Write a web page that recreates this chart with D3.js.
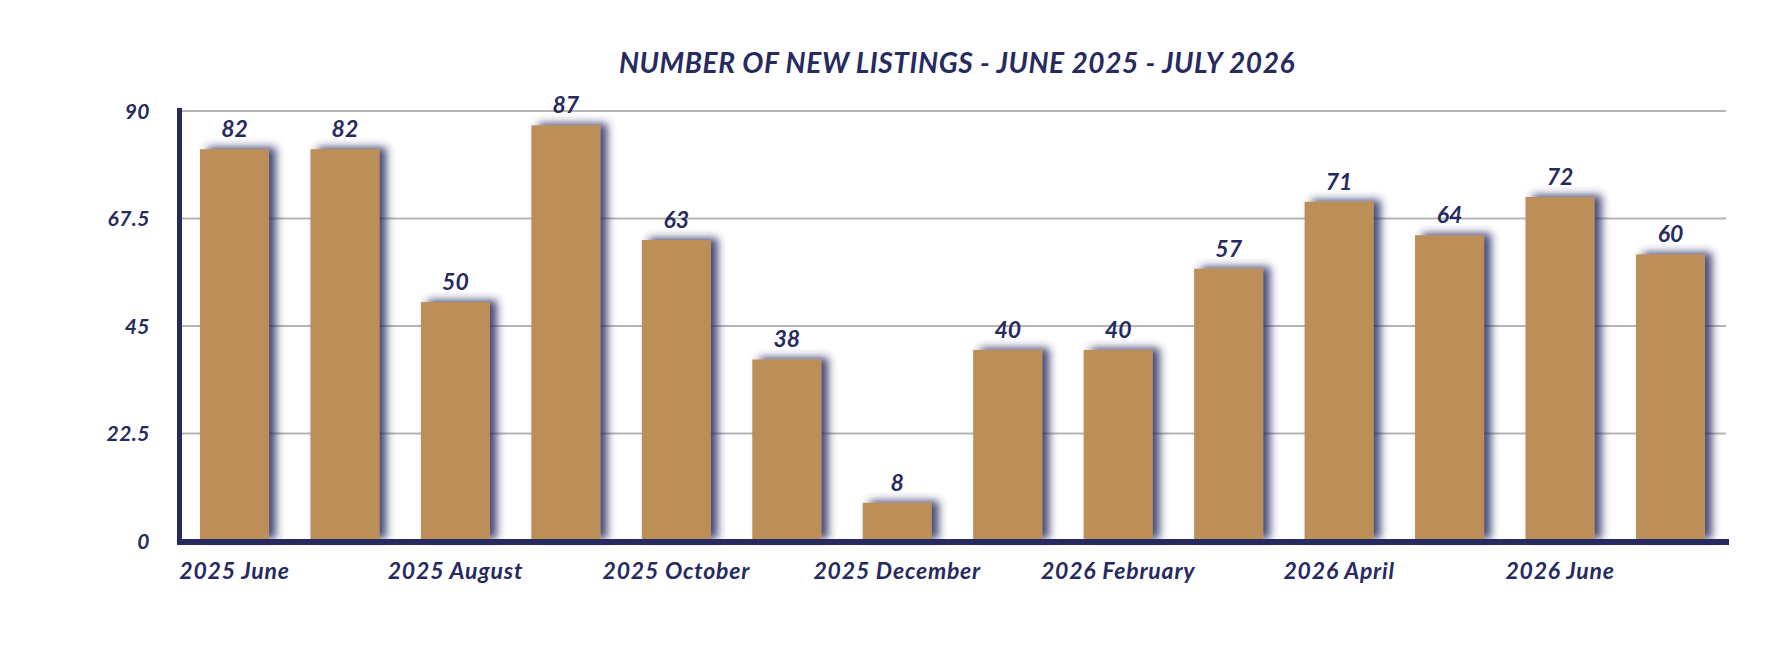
<!DOCTYPE html>
<html>
<head>
<meta charset="utf-8">
<script src="https://cdn.jsdelivr.net/npm/d3@7"></script>
<style>
  html, body { margin: 0; padding: 0; background: #ffffff; }
  text { font-family: "Lato", "Open Sans", sans-serif; font-weight: 700; font-style: italic; fill: #262a5e; }
</style>
</head>
<body>
<div id="chart-container"></div>
<script>
// chart data
var months = ["2025 June", "2025 July", "2025 August", "2025 September", "2025 October",
              "2025 November", "2025 December", "2026 January", "2026 February", "2026 March",
              "2026 April", "2026 May", "2026 June", "2026 July"];
var newListings = [82, 82, 50, 87, 63, 38, 8, 40, 40, 57, 71, 64, 72, 60];
var yTicks = [0, 22.5, 45, 67.5, 90];
var chartTitle = "NUMBER OF NEW LISTINGS - JUNE 2025 - JULY 2026";

var width = 1772, height = 656;
var navy = "#262a5e";
var gold = "#bc8e59";

var svg = d3.select("#chart-container").append("svg")
    .attr("width", width)
    .attr("height", height);

// blurred navy shadow behind the bars
var defs = svg.append("defs");
var filter = defs.append("filter")
    .attr("id", "barShadow")
    .attr("x", "-30%").attr("y", "-30%")
    .attr("width", "160%").attr("height", "160%");
filter.append("feDropShadow")
    .attr("dx", 7).attr("dy", -2)
    .attr("stdDeviation", 4)
    .attr("flood-color", navy)
    .attr("flood-opacity", 0.85);

var x = d3.scaleBand()
    .domain(months)
    .range([179, 1726])
    .paddingInner(0.375)
    .paddingOuter(0.19);

var y = d3.scaleLinear()
    .domain([0, 90])
    .range([541, 111]);

// title
svg.append("text")
    .attr("x", 957)
    .attr("y", 73)
    .attr("text-anchor", "middle")
    .style("font-size", "28px")
    .style("letter-spacing", "0.6px")
    .text(chartTitle);

// gridlines
svg.append("g")
    .selectAll("line")
    .data(yTicks.filter(function(d) { return d > 0; }))
    .enter()
    .append("line")
    .attr("x1", 180)
    .attr("x2", 1726)
    .attr("y1", function(d) { return y(d); })
    .attr("y2", function(d) { return y(d); })
    .attr("stroke", "#b5b5b5")
    .attr("stroke-width", 2);

// y tick labels
svg.append("g")
    .selectAll("text")
    .data(yTicks)
    .enter()
    .append("text")
    .attr("x", 150)
    .attr("y", function(d) { return y(d); })
    .attr("dy", "0.36em")
    .attr("text-anchor", "end")
    .style("font-size", "21px")
    .style("letter-spacing", "0.5px")
    .text(function(d) { return d; });

// bars
svg.append("g")
    .selectAll("rect")
    .data(newListings)
    .enter()
    .append("rect")
    .attr("x", function(d, i) { return x(months[i]); })
    .attr("y", function(d) { return y(d); })
    .attr("width", x.bandwidth())
    .attr("height", function(d) { return y(0) - y(d); })
    .attr("fill", gold)
    .attr("filter", "url(#barShadow)");

// value labels
svg.append("g")
    .selectAll("text")
    .data(newListings)
    .enter()
    .append("text")
    .attr("x", function(d, i) { return x(months[i]) + x.bandwidth() / 2; })
    .attr("y", function(d) { return y(d) - 12; })
    .attr("text-anchor", "middle")
    .style("font-size", "23px")
    .text(function(d) { return d; });

// axis lines
svg.append("line")
    .attr("x1", 179.5).attr("x2", 179.5)
    .attr("y1", 108).attr("y2", 545)
    .attr("stroke", navy)
    .attr("stroke-width", 5);

svg.append("line")
    .attr("x1", 177).attr("x2", 1729)
    .attr("y1", 542).attr("y2", 542)
    .attr("stroke", navy)
    .attr("stroke-width", 6);

// x labels, every other month
svg.append("g")
    .selectAll("text")
    .data(months.filter(function(d, i) { return i % 2 === 0; }))
    .enter()
    .append("text")
    .attr("x", function(d) { return x(d) + x.bandwidth() / 2; })
    .attr("y", 579)
    .attr("text-anchor", "middle")
    .style("font-size", "23px")
    .style("letter-spacing", "0.8px")
    .text(function(d) { return d; });
</script>
</body>
</html>
